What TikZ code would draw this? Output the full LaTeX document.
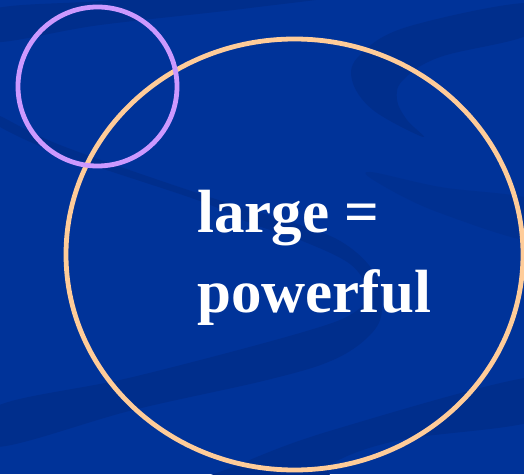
\documentclass[tikz,border=0pt]{standalone}
\usepackage{fontspec}
\setmainfont{Liberation Serif}
\usepackage{xcolor}
\definecolor{slide}{HTML}{003399}
\definecolor{swoosh}{HTML}{002E8C}
\definecolor{lilac}{HTML}{CC99FF}
\definecolor{peach}{HTML}{FFCC99}

\begin{document}
\begin{tikzpicture}[
  x=1pt, y=1pt,
  ring/.style={line width=4.8pt},
  words/.style={anchor=base west, inner sep=0pt, text=white,
                font=\bfseries\fontsize{61}{79}\selectfont}
]
  % page and background
  \useasboundingbox (0,0) rectangle (524,474);
  \fill[slide] (0,0) rectangle (524,474);
  \clip (0,0) rectangle (524,474);

  % darker swooshes
  \fill[swoosh] plot[smooth cycle, tension=0.6] coordinates {
    (530,471) (407,447) (360,419) (352,394) (373,364) (423,337)
    (407,354) (397,374) (403,394) (440,417) (530,440)};
  \fill[swoosh] plot[smooth cycle, tension=0.6] coordinates {
    (-5,360) (60,329) (200,280) (300,249) (345,230) (375,200) (382,164)
    (370,139) (333,114) (267,94) (133,64) (-5,27)
    (-5,67) (133,97) (300,141) (355,162) (366,184) (350,210) (300,234)
    (250,251) (200,273) (60,320) (-5,350)};
  \fill[swoosh] plot[smooth cycle, tension=0.6] coordinates {
    (540,98) (333,44) (233,7) (200,-10) (320,-10) (333,11) (400,34) (540,55)};
  \fill[swoosh] plot[smooth cycle, tension=0.6] coordinates {
    (-10,464) (100,473) (200,482) (360,482) (250,466) (100,449) (-10,432)};
  \fill[swoosh!60!slide] plot[smooth cycle, tension=0.6] coordinates {
    (370,302) (440,287) (540,272) (540,232) (440,261) (380,290)};

  % rings
  \draw[ring, peach] (294.5,219.5) ellipse [x radius=228.5, y radius=215.5];
  \draw[ring, lilac] (97.5,387.5) circle [radius=79.5];

  % text
  \node[words] (lineA) at (197,241) {large =};
  \node[words] (lineB) at (197,162) {powerful};
\end{tikzpicture}
\end{document}
